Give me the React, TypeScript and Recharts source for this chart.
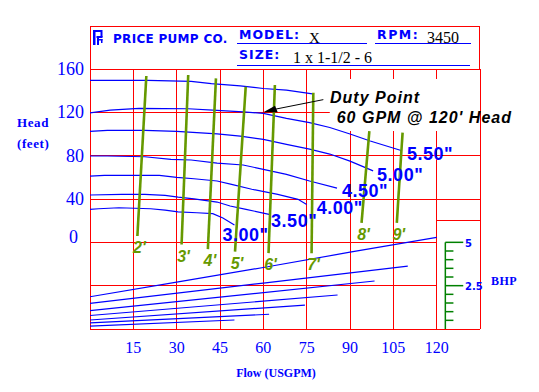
import React from 'react';
import { ComposedChart, Line, XAxis, YAxis, ReferenceLine, ReferenceArea, ReferenceDot } from 'recharts';

const W = 539;
const H = 392;
const BLUE = '#0000ff';
const RED = '#ff0000';
const OLIVE = '#669900';
const AXGREEN = '#008000';
const SERIF = '"Liberation Serif", "Times New Roman", serif';
const SANS = '"Liberation Sans", Arial, sans-serif';
const DEJAVU = '"DejaVu Sans", Verdana, sans-serif';

// ---- axis / grid values
const flowTicks = [15, 30, 45, 60, 75, 90, 105, 120];
const flowGrid = [0, 15, 30, 45, 60, 75, 90, 105, 120, 135];
const headTicks = [0, 40, 80, 120, 160];
const headGridFull = [160, 120, 80, 40, -80];
const headGridPlot = [0, -40];
const bhpBoxTop = 20;
const bhpTicks = [0.5, 1, 1.5, 2, 2.5, 3, 3.5, 4, 4.5, 5];
const bhpMajor = [2.5, 5];

// ---- head curves: [flow USGPM, head ft]
const head600 = [[0, 149.5], [20, 149.5], [35, 148.5], [42, 146.5], [52, 144.5], [60, 142], [68, 140.5], [77, 137]];
const head550 = [[0, 119.5], [7, 122], [17, 123.7], [34, 123.3], [44, 121.8], [53, 120.5], [60, 119], [68, 114.5], [76, 110.5], [83, 106], [90, 100], [97, 93.5], [108, 84.5]];
const head500 = [[0, 102.4], [6, 103.4], [19, 103.4], [30, 102.5], [37, 101.2], [44, 100.2], [52, 98], [60, 95], [68, 90.5], [76, 86], [83, 81.5], [90, 75], [98, 66]];
const head450 = [[0, 79.7], [6, 79.7], [19, 79], [28, 76.6], [35, 76], [44, 73.2], [53, 71.4], [60, 67.4], [68, 62.8], [76, 56.6], [85.5, 50]];
const head400 = [[0, 61.2], [5, 61.8], [24, 61.8], [30, 60], [36, 58.7], [44, 56.6], [49, 53.5], [56, 49], [65, 44.3], [72, 39.7], [75, 35]];
const head350 = [[0, 43.7], [11, 44.3], [19, 44.3], [26, 43.4], [30.5, 41.8], [36, 40.2], [44, 37.2], [48.5, 33.5], [54, 30.5], [62, 25.8]];
const head300 = [[0, 30.5], [3, 31], [10, 31.9], [21, 31], [26, 29.8], [30.5, 28.2], [37, 27.3], [42.5, 26.5], [46, 22.5], [50, 16]];

// ---- brake horsepower curves: [flow USGPM, BHP]
const bhp600 = [[0, 1.86], [30, 2.7], [60, 3.55], [90, 4.43], [120, 5.29]];
const bhp550 = [[0, 1.48], [60, 2.65], [110, 3.63]];
const bhp500 = [[0, 1.06], [98.5, 2.77]];
const bhp450 = [[0, 0.78], [85.7, 1.96]];
const bhp400 = [[0, 0.52], [74.4, 1.38]];
const bhp350 = [[0, 0.35], [62, 0.85]];
const bhp300 = [[0, 0.17], [50, 0.52]];

// ---- NPSHr lines: [flow USGPM, head ft] top to bottom
const npsh2 = [[19.5, 153.5], [16.4, 5.8]];
const npsh3 = [[34, 154.4], [31.7, -2]];
const npsh4 = [[43.6, 151.4], [40.8, -6.3]];
const npsh5 = [[53.9, 143.6], [50.2, -8.5]];
const npsh6 = [[64, 145.2], [61.8, -10]];
const npsh7 = [[77.3, 138], [76.7, -10]];
const npsh8 = [[96.7, 102.7], [94, 18]];
const npsh9 = [[108.2, 101.2], [106.2, 18]];

const dutyFlow = 60;
const dutyHead = 120;

const headCurves = [
  { name: '6.00"', pts: head600, show: false, dx: 0, dy: 0 },
  { name: '5.50"', pts: head550, show: true, dx: 5, dy: 2.5 },
  { name: '5.00"', pts: head500, show: true, dx: 4, dy: 3.5 },
  { name: '4.50"', pts: head450, show: true, dx: 5, dy: 2 },
  { name: '4.00"', pts: head400, show: true, dx: 10, dy: 3 },
  { name: '3.50"', pts: head350, show: true, dx: 2, dy: 6 },
  { name: '3.00"', pts: head300, show: true, dx: -12, dy: 9 },
];
const bhpCurves = [bhp600, bhp550, bhp500, bhp450, bhp400, bhp350, bhp300];
const npshLines = [
  { name: "2'", pts: npsh2 },
  { name: "3'", pts: npsh3 },
  { name: "4'", pts: npsh4 },
  { name: "5'", pts: npsh5 },
  { name: "6'", pts: npsh6 },
  { name: "7'", pts: npsh7 },
  { name: "8'", pts: npsh8 },
  { name: "9'", pts: npsh9 },
];

const toData = (a: number[][]) => a.map(([q, v]) => ({ q, v }));

const FlowTick = (p: any) => (
  <text x={p.x} y={p.y + 16} textAnchor="middle" fill={BLUE} fontFamily={SERIF} fontSize={16}>
    {p.payload.value}
  </text>
);

const HeadTick = (p: any) => {
  const v = p.payload.value;
  return (
    <text x={p.x + 2 - (v === 0 ? 6 : 0)} y={p.y + 6 - (v === 0 ? 5 : 0)} textAnchor="end" fill={BLUE} fontFamily={SERIF} fontSize={18}>
      {v}
    </text>
  );
};

const curveLabel = (text: string, dx: number, dy: number) => (p: any) => (
  <text x={p.cx + dx} y={p.cy + dy + 6.5} fill={BLUE} fontFamily={SANS} fontWeight="bold" fontSize={18} letterSpacing={0.5}>
    {text}
  </text>
);

const npshLabel = (text: string) => (p: any) => (
  <text x={p.cx + 2} y={p.cy + 17} textAnchor="middle" fill={OLIVE} fontFamily={SANS} fontWeight="bold" fontStyle="italic" fontSize={16}>
    {text}
  </text>
);

const bhpLabel = (text: string) => (p: any) => (
  <text x={p.cx} y={p.cy + 4.5} fill={BLUE} fontFamily={DEJAVU} fontWeight="bold" fontSize={10}>
    {text}
  </text>
);

const DutyShape = (p: any) => {
  const { cx, cy } = p;
  return (
    <g>
      <line x1={cx + 12.7} y1={cy - 3.3} x2={cx + 60} y2={cy - 12.7} stroke="#000" strokeWidth={1} />
      <polygon points={`${cx},${cy} ${cx + 11.7},${cy - 6.7} ${cx + 14.4},${cy}`} fill="#000" />
      <text x={cx + 66.7} y={cy - 9.3} fill="#000" fontFamily={SANS} fontWeight="bold" fontStyle="italic" fontSize={16} letterSpacing={1}>
        Duty Point
      </text>
      <text x={cx + 73.4} y={cy + 10.7} fill="#000" fontFamily={SANS} fontWeight="bold" fontStyle="italic" fontSize={16} letterSpacing={1}>
        {`${dutyFlow} GPM @ ${dutyHead}' Head`}
      </text>
    </g>
  );
};

const gridProps = { stroke: RED, strokeWidth: 1, shapeRendering: 'crispEdges', ifOverflow: 'visible' as const, zIndex: 50 };

export default function App() {
  return (
    <div style={{ position: 'absolute', left: 0, top: 0, width: W, height: H, background: '#fff' }}>
      <ComposedChart width={W} height={H} margin={{ top: 69, right: 59, bottom: 0, left: 0 }}>
        <XAxis
          type="number"
          dataKey="q"
          domain={[0, 135]}
          ticks={flowTicks}
          interval={0}
          allowDataOverflow
          axisLine={false}
          tickLine={false}
          height={63}
          tick={FlowTick}
        />
        <YAxis
          yAxisId="head"
          type="number"
          domain={[-80, 160]}
          ticks={headTicks}
          interval={0}
          allowDataOverflow
          axisLine={false}
          tickLine={false}
          width={90}
          tick={HeadTick}
        />
        <YAxis yAxisId="bhp" orientation="right" type="number" domain={[0, 15]} allowDataOverflow hide />

        {flowGrid.map((f) => (
          <ReferenceLine key={'gv' + f} x={f} yAxisId="head" {...gridProps} />
        ))}
        {headGridFull.map((h) => (
          <ReferenceLine key={'gh' + h} y={h} yAxisId="head" {...gridProps} />
        ))}
        {headGridPlot.map((h) => (
          <ReferenceLine key={'gp' + h} yAxisId="head" segment={[{ x: 0, y: h }, { x: 120, y: h }]} {...gridProps} />
        ))}
        <ReferenceLine yAxisId="head" segment={[{ x: 120, y: bhpBoxTop }, { x: 135, y: bhpBoxTop }]} {...gridProps} />

        <ReferenceArea
          yAxisId="head"
          x1={83}
          x2={134.6}
          y1={102.7}
          y2={150.7}
          fill="#ffffff"
          fillOpacity={1}
          stroke="none"
          ifOverflow="visible"
          zIndex={60}
        />

        {headCurves.map((c) => (
          <Line
            key={'h' + c.name}
            yAxisId="head"
            data={toData(c.pts)}
            dataKey="v"
            type="linear"
            stroke={BLUE}
            strokeWidth={1.2}
            dot={false}
            activeDot={false}
            isAnimationActive={false}
          />
        ))}
        {bhpCurves.map((c, i) => (
          <Line
            key={'b' + i}
            yAxisId="bhp"
            data={toData(c)}
            dataKey="v"
            type="linear"
            stroke={BLUE}
            strokeWidth={1.2}
            dot={false}
            activeDot={false}
            isAnimationActive={false}
          />
        ))}
        {npshLines.map((n) => (
          <Line
            key={'n' + n.name}
            yAxisId="head"
            data={toData(n.pts)}
            dataKey="v"
            type="linear"
            stroke={OLIVE}
            strokeWidth={2.6}
            dot={false}
            activeDot={false}
            isAnimationActive={false}
          />
        ))}

        {headCurves
          .filter((c) => c.show)
          .map((c) => {
            const last = c.pts[c.pts.length - 1];
            return (
              <ReferenceDot
                key={'hl' + c.name}
                yAxisId="head"
                x={last[0]}
                y={last[1]}
                shape={curveLabel(c.name, c.dx, c.dy)}
                ifOverflow="visible"
                zIndex={900}
              />
            );
          })}
        {npshLines.map((n) => {
          const last = n.pts[n.pts.length - 1];
          return (
            <ReferenceDot
              key={'nl' + n.name}
              yAxisId="head"
              x={last[0]}
              y={last[1]}
              shape={npshLabel(n.name)}
              ifOverflow="visible"
              zIndex={900}
            />
          );
        })}

        <ReferenceLine
          yAxisId="bhp"
          segment={[{ x: 123, y: 0 }, { x: 123, y: 5 }]}
          stroke={AXGREEN}
          strokeWidth={1.5}
          ifOverflow="visible"
          zIndex={800}
        />
        {bhpTicks.map((t) => (
          <ReferenceLine
            key={'bt' + t}
            yAxisId="bhp"
            segment={[{ x: 123, y: t }, { x: bhpMajor.includes(t) ? 129.2 : 125.8, y: t }]}
            stroke={AXGREEN}
            strokeWidth={1.5}
            ifOverflow="visible"
            zIndex={800}
          />
        ))}
        {bhpMajor.map((t) => (
          <ReferenceDot key={'bl' + t} yAxisId="bhp" x={129.8} y={t} shape={bhpLabel(String(t))} ifOverflow="visible" zIndex={900} />
        ))}

        <ReferenceDot yAxisId="head" x={dutyFlow} y={dutyHead} shape={DutyShape} ifOverflow="visible" zIndex={1000} />
      </ComposedChart>

      <svg width={W} height={H} style={{ position: 'absolute', left: 0, top: 0, pointerEvents: 'none' }}>
        <g shapeRendering="crispEdges" stroke={RED} strokeWidth={1}>
          <line x1={90} y1={26.5} x2={480} y2={26.5} />
          <line x1={90.5} y1={26} x2={90.5} y2={69} />
          <line x1={479.5} y1={26} x2={479.5} y2={69} />
        </g>
        <g fill={BLUE}>
          <rect x={93} y={30} width={2.5} height={15} />
          <rect x={93} y={30} width={9} height={2} />
          <rect x={100.5} y={30} width={2} height={7} />
          <rect x={96.5} y={36} width={6} height={2} />
          <rect x={97} y={38} width={2} height={7} />
          <rect x={99} y={39} width={3.5} height={1.5} />
          <rect x={101} y={39} width={1.5} height={4} />
        </g>
        <text x={113} y={42.7} fill={BLUE} fontFamily={DEJAVU} fontWeight="bold" fontSize={12} letterSpacing={0.3}>
          PRICE PUMP CO.
        </text>
        <text x={239} y={39.3} fill={BLUE} fontFamily={DEJAVU} fontWeight="bold" fontSize={12.5} letterSpacing={1}>
          MODEL:
        </text>
        <text x={309} y={43.3} fill="#000" fontFamily={SERIF} fontSize={15}>
          X
        </text>
        <text x={377} y={39.3} fill={BLUE} fontFamily={DEJAVU} fontWeight="bold" fontSize={12.5} letterSpacing={1.5}>
          RPM:
        </text>
        <text x={427} y={43.3} fill="#000" fontFamily={SERIF} fontSize={16}>
          3450
        </text>
        <text x={239} y={59.3} fill={BLUE} fontFamily={DEJAVU} fontWeight="bold" fontSize={12.5} letterSpacing={1}>
          SIZE:
        </text>
        <text x={293} y={63.3} fill="#000" fontFamily={SERIF} fontSize={16}>
          1 x 1-1/2 - 6
        </text>
        <g shapeRendering="crispEdges" stroke={BLUE} strokeWidth={1}>
          <line x1={237} y1={43.5} x2={367} y2={43.5} />
          <line x1={375} y1={43.5} x2={471} y2={43.5} />
          <line x1={237} y1={65.5} x2={470} y2={65.5} />
        </g>

        <text x={17} y={127.3} fill={BLUE} fontFamily={SERIF} fontWeight="bold" fontSize={13} letterSpacing={0.6}>
          Head
        </text>
        <text x={17} y={148} fill={BLUE} fontFamily={SERIF} fontWeight="bold" fontSize={13} letterSpacing={0.6}>
          (feet)
        </text>
        <text x={276} y={376.7} textAnchor="middle" fill={BLUE} fontFamily={SERIF} fontWeight="bold" fontSize={12}>
          Flow (USGPM)
        </text>
        <text x={491} y={285} fill={BLUE} fontFamily={SERIF} fontWeight="bold" fontSize={12} letterSpacing={0.5}>
          BHP
        </text>
      </svg>
    </div>
  );
}
